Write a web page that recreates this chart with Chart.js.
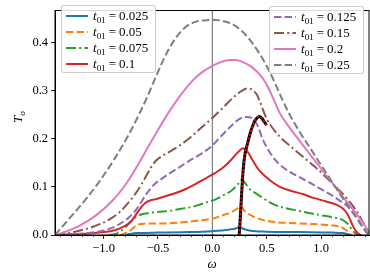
<!DOCTYPE html>
<html><head><meta charset="utf-8">
<script src="https://cdn.jsdelivr.net/npm/chart.js@4.4.1/dist/chart.umd.min.js"></script>
<style>
body{margin:0;background:#fff;}
#wrap{position:relative;width:370px;height:277px;font-family:"Liberation Serif",serif;color:#000;}
canvas{position:absolute;left:0;top:0;}
.leg{position:absolute;box-sizing:border-box;border:1px solid rgba(200,200,200,0.9);border-radius:3px;background:rgba(255,255,255,0.85);}
.row{position:absolute;left:0;height:16px;line-height:16px;font-size:13px;white-space:nowrap;}
.row svg{position:absolute;left:4px;top:0;}
.row span.t{position:absolute;left:31px;top:0;}
sub{font-size:70%;vertical-align:-3px;line-height:0;}
.eq{margin:0 3px;}
#ylab{position:absolute;left:3px;top:109px;width:30px;height:16px;line-height:16px;text-align:center;font-size:13px;transform:rotate(-90deg);}
#xlab{position:absolute;left:192px;top:256px;width:40px;height:16px;line-height:16px;text-align:center;font-size:13px;}
</style></head>
<body><div id="wrap"><canvas id="c" width="370" height="277"></canvas>
<div id="ylab"><i>T</i><sub>σ</sub></div>
<div id="xlab"><i>ω</i></div>
</div>
<script>
// tick values
const xMajorTicks = [-1.0, -0.5, 0.0, 0.5, 1.0];
const xMinorTicks = [-1.4,-1.3,-1.2,-1.1,-0.9,-0.8,-0.7,-0.6,-0.4,-0.3,-0.2,-0.1,0.1,0.2,0.3,0.4,0.6,0.7,0.8,0.9,1.1,1.2,1.3,1.4];
const yTicks = [0.0, 0.1, 0.2, 0.3, 0.4];
const labels = ["0.025","0.05","0.075","0.1","0.125","0.15","0.2","0.25"];
const zeroLine = [[0, 0], [0, 0.466]];

// series values [omega, T]
const s025 = [[-0.8,0],[-0.76,0.002],[-0.7,0.004],[-0.5,0.005],[-0.2,0.006],[0,0.008],[0.15,0.011],[0.22,0.014],[0.25,0.017],[0.28,0.013],[0.35,0.009],[0.5,0.007],[0.8,0.006],[1.1,0.005],[1.2,0.004],[1.24,0.002],[1.27,0]];
const s05 = [[-0.85,0],[-0.78,0.006],[-0.74,0.012],[-0.7,0.02],[-0.65,0.023],[-0.55,0.024],[-0.44,0.024],[-0.3,0.026],[-0.13,0.03],[0,0.034],[0.11,0.042],[0.18,0.048],[0.23,0.055],[0.26,0.06],[0.3,0.049],[0.36,0.04],[0.45,0.032],[0.57,0.027],[0.7,0.025],[0.9,0.023],[1.05,0.021],[1.17,0.017],[1.22,0.012],[1.25,0.006],[1.28,0]];
const s075 = [[-0.95,0],[-0.88,0.003],[-0.8,0.016],[-0.75,0.028],[-0.71,0.036],[-0.66,0.042],[-0.6,0.045],[-0.5,0.048],[-0.4,0.05],[-0.3,0.054],[-0.2,0.058],[-0.13,0.062],[-0.05,0.068],[0.02,0.073],[0.1,0.082],[0.18,0.093],[0.23,0.104],[0.27,0.115],[0.31,0.105],[0.35,0.094],[0.39,0.088],[0.47,0.076],[0.57,0.063],[0.67,0.056],[0.8,0.05],[0.9,0.045],[1.0,0.041],[1.1,0.037],[1.2,0.031],[1.25,0.022],[1.28,0.012],[1.31,0.004],[1.34,0]];
const s1 = [[-1.447,0],[-1.2,0.002],[-1.0,0.006],[-0.9,0.01],[-0.83,0.016],[-0.78,0.022],[-0.74,0.03],[-0.71,0.04],[-0.68,0.05],[-0.65,0.059],[-0.62,0.066],[-0.58,0.071],[-0.53,0.074],[-0.44,0.08],[-0.35,0.086],[-0.25,0.095],[-0.13,0.109],[-0.05,0.119],[0.02,0.128],[0.11,0.142],[0.18,0.158],[0.24,0.173],[0.28,0.18],[0.32,0.174],[0.37,0.155],[0.42,0.137],[0.48,0.123],[0.55,0.11],[0.62,0.1],[0.72,0.092],[0.83,0.085],[0.93,0.077],[1.04,0.07],[1.14,0.063],[1.2,0.055],[1.24,0.044],[1.27,0.03],[1.3,0.015],[1.34,0.003],[1.37,0]];
const s125 = [[-1.447,0],[-1.2,0.003],[-1.05,0.007],[-0.99,0.01],[-0.9,0.017],[-0.83,0.026],[-0.76,0.038],[-0.71,0.05],[-0.66,0.066],[-0.62,0.081],[-0.57,0.096],[-0.53,0.106],[-0.47,0.116],[-0.4,0.127],[-0.3,0.141],[-0.22,0.153],[-0.1,0.169],[0.0,0.186],[0.08,0.205],[0.18,0.228],[0.25,0.241],[0.31,0.245],[0.36,0.243],[0.42,0.225],[0.46,0.2],[0.51,0.178],[0.57,0.158],[0.64,0.142],[0.72,0.13],[0.8,0.12],[0.9,0.108],[1.0,0.095],[1.08,0.085],[1.16,0.073],[1.24,0.06],[1.3,0.045],[1.36,0.025],[1.4,0.01],[1.43,0.002]];
const s15 = [[-1.447,0],[-1.3,0.005],[-1.14,0.014],[-1.03,0.023],[-0.92,0.036],[-0.85,0.048],[-0.78,0.065],[-0.71,0.085],[-0.65,0.106],[-0.6,0.126],[-0.56,0.142],[-0.52,0.154],[-0.47,0.163],[-0.4,0.172],[-0.3,0.186],[-0.2,0.203],[-0.1,0.223],[0,0.243],[0.1,0.265],[0.2,0.287],[0.27,0.299],[0.32,0.304],[0.37,0.301],[0.41,0.291],[0.44,0.275],[0.47,0.257],[0.5,0.241],[0.56,0.22],[0.62,0.204],[0.74,0.18],[0.84,0.161],[0.93,0.144],[1.0,0.13],[1.08,0.112],[1.16,0.094],[1.24,0.075],[1.3,0.058],[1.36,0.037],[1.4,0.02],[1.44,0.004]];
const s2 = [[-1.447,0],[-1.3,0.011],[-1.14,0.03],[-1.03,0.048],[-0.92,0.071],[-0.83,0.095],[-0.75,0.121],[-0.67,0.151],[-0.59,0.183],[-0.5,0.218],[-0.4,0.255],[-0.28,0.294],[-0.18,0.321],[-0.1,0.337],[0,0.351],[0.08,0.359],[0.16,0.363],[0.22,0.363],[0.28,0.359],[0.36,0.349],[0.44,0.332],[0.49,0.316],[0.53,0.298],[0.58,0.273],[0.62,0.253],[0.7,0.226],[0.8,0.196],[0.93,0.158],[1.05,0.123],[1.15,0.094],[1.23,0.071],[1.32,0.045],[1.38,0.027],[1.44,0.006]];
const s25 = [[-1.447,0],[-1.3,0.038],[-1.15,0.078],[-1.03,0.114],[-0.9,0.158],[-0.79,0.2],[-0.69,0.243],[-0.6,0.286],[-0.53,0.323],[-0.46,0.359],[-0.41,0.382],[-0.33,0.411],[-0.25,0.431],[-0.15,0.443],[-0.05,0.446],[0,0.447],[0.08,0.445],[0.16,0.44],[0.23,0.431],[0.32,0.412],[0.44,0.374],[0.52,0.342],[0.59,0.308],[0.65,0.278],[0.71,0.25],[0.8,0.215],[0.9,0.18],[1.0,0.145],[1.1,0.11],[1.2,0.076],[1.3,0.043],[1.38,0.017],[1.44,0]];
const sCurve = [[0.246,0],[0.255,0.03],[0.265,0.07],[0.283,0.135],[0.3,0.168],[0.32,0.187],[0.34,0.205],[0.36,0.22],[0.385,0.235],[0.406,0.242],[0.43,0.246],[0.452,0.243],[0.475,0.236],[0.498,0.228]];

const seriesData = [s025, s05, s075, s1, s125, s15, s2, s25];
const colors = ['#1f77b4','#ff7f0e','#2ca02c','#d62728','#9467bd','#8c564b','#e377c2','#7f7f7f'];
const DASH = [7.4,3.2], DOT = [10,3.2,2,3.2];
const dashes = [[], DASH, DOT, [], DASH, DOT, [], DASH];

const toXY = a => a.map(p => ({x: p[0], y: p[1]}));
const datasets = [];
datasets.push({data: toXY(sCurve), borderColor:'#ff0000', borderWidth:1.8, borderDash:[2,2], pointRadius:0, tension:0.3, order:0});
datasets.push({data: toXY(sCurve), borderColor:'#000000', borderWidth:3, pointRadius:0, tension:0.3, order:1});
seriesData.forEach((s,i) => datasets.push({data: toXY(s), borderColor: colors[i], borderWidth:2, borderDash: dashes[i], pointRadius:0, cubicInterpolationMode:'monotone', order: 10 - i}));
datasets.push({data: toXY(zeroLine), borderColor:'#808080', borderWidth:1.2, pointRadius:0, order:30});

const framePlugin = {
  id:'frame',
  afterDraw(chart){
    const {ctx, chartArea:a, scales:{x}} = chart;
    ctx.save();
    ctx.strokeStyle='#000'; ctx.lineWidth=1;
    ctx.strokeRect(a.left, a.top, a.right-a.left, a.bottom-a.top);
    ctx.lineWidth=0.7;
    xMinorTicks.forEach(v => {
      const px = Math.round(x.getPixelForValue(v)) + 0.5;
      ctx.beginPath(); ctx.moveTo(px, a.bottom); ctx.lineTo(px, a.bottom + 2.2); ctx.stroke();
    });
    ctx.restore();
  }
};

const fontT = {family:'Liberation Serif', size:12.5};
new Chart(document.getElementById('c'), {
  type:'line',
  data:{datasets},
  options:{
    responsive:false, animation:false, devicePixelRatio:1,
    layout:{padding:{top:1, right:1, left:0, bottom:0}},
    plugins:{legend:{display:false}, tooltip:{enabled:false}},
    scales:{
      x:{type:'linear', min:-1.447, max:1.44,
        afterBuildTicks: s => { s.ticks = xMajorTicks.map(v => ({value:v})); },
        afterFit: s => { s.height = 42; },
        ticks:{font:fontT, color:'#000', padding:2, maxRotation:0, autoSkip:false,
          callback: v => (v < 0 ? '\u2212' : '') + Math.abs(v).toFixed(1)},
        grid:{drawOnChartArea:false, drawTicks:true, tickLength:4, tickColor:'#000', tickWidth:0.9},
        border:{display:true, color:'#000', width:1}},
      y:{type:'linear', min:0, max:0.466,
        afterBuildTicks: s => { s.ticks = yTicks.map(v => ({value:v})); },
        afterFit: s => { s.width = 55; },
        ticks:{font:fontT, color:'#000', padding:3, callback: v => v.toFixed(1)},
        grid:{drawOnChartArea:false, drawTicks:true, tickLength:4, tickColor:'#000', tickWidth:0.9},
        border:{display:true, color:'#000', width:1}}
    }
  },
  plugins:[framePlugin]
});

// HTML legends built from the series arrays
function makeLegend(idxs, left, top){
  const box = document.createElement('div');
  box.className='leg';
  box.style.left=left+'px'; box.style.top=top+'px'; box.style.width='95px'; box.style.height='68px';
  idxs.forEach((i,k) => {
    const row = document.createElement('div');
    row.className='row'; row.style.top=(2 + k*16)+'px'; row.style.width='95px';
    const da = dashes[i].length ? dashes[i].join(' ') : 'none';
    row.innerHTML = '<svg width="24" height="16"><line x1="0" y1="8" x2="22" y2="8" stroke="'+colors[i]+'" stroke-width="2" stroke-dasharray="'+da+'"/></svg>' +
      '<span class="t"><i>t</i><sub>01</sub><span class="eq">=</span>'+labels[i]+'</span>';
    box.appendChild(row);
  });
  document.getElementById('wrap').appendChild(box);
}
makeLegend([0,1,2,3], 61, 5);
makeLegend([4,5,6,7], 269, 6);
</script>
</body></html>
